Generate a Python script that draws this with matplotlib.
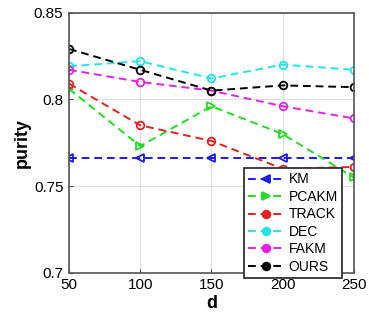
import numpy as np
import matplotlib.pyplot as plt

plt.rcParams['font.family'] = ['Liberation Sans', 'DejaVu Sans']

d = [50, 100, 150, 200, 250]
km = [0.766, 0.766, 0.766, 0.766, 0.766]
pcakm = [0.806, 0.773, 0.796, 0.780, 0.755]
track = [0.809, 0.785, 0.776, 0.760, 0.761]
dec = [0.819, 0.822, 0.812, 0.820, 0.817]
fakm = [0.817, 0.810, 0.805, 0.796, 0.789]
ours = [0.829, 0.817, 0.805, 0.808, 0.807]

fig = plt.figure(figsize=(3.69, 3.21), dpi=100)
ax = fig.add_axes([0.187, 0.15, 0.772, 0.811])

series = [
    (km, 'KM', '#1a1ae6', '<'),
    (pcakm, 'PCAKM', '#22dd22', '>'),
    (track, 'TRACK', '#e62020', 'o'),
    (dec, 'DEC', '#22e6e6', 'o'),
    (fakm, 'FAKM', '#e620e6', 'o'),
    (ours, 'OURS', 'black', 'o'),
]
for vals, name, c, m in series:
    ax.plot(d, vals, color=c, ls=(0, (4, 2.5)), marker=m, markersize=5.5,
            mfc='none', mew=1.3, lw=1.4, label=name)

ax.set_xlim(50, 250)
ax.set_ylim(0.7, 0.85)
ax.set_xticks(d)
ax.set_yticks([0.7, 0.75, 0.8, 0.85])
ax.set_yticklabels(['0.7', '0.75', '0.8', '0.85'])
ax.tick_params(labelsize=11, direction='in', length=3, color='#444444', pad=4)
ax.grid(True, color='#dddddd', lw=0.8)
for s in ax.spines.values():
    s.set_color('#555555')
    s.set_linewidth(1.2)
ax.set_xlabel('d', fontsize=13, fontweight='bold', labelpad=2)
ax.set_ylabel('purity', fontsize=13, fontweight='bold', labelpad=2)

leg = ax.legend(loc='lower right', bbox_to_anchor=(0.927, 0.134),
                bbox_transform=fig.transFigure, fontsize=10, fancybox=False,
                framealpha=1, edgecolor='#333333', borderpad=0.3,
                labelspacing=0.25, handlelength=2.6, handletextpad=0.3,
                borderaxespad=0)
leg.get_frame().set_linewidth(1.3)
for h in leg.legend_handles:
    h.set_markerfacecolor(h.get_color())

fig.savefig('out.png', dpi=100)
